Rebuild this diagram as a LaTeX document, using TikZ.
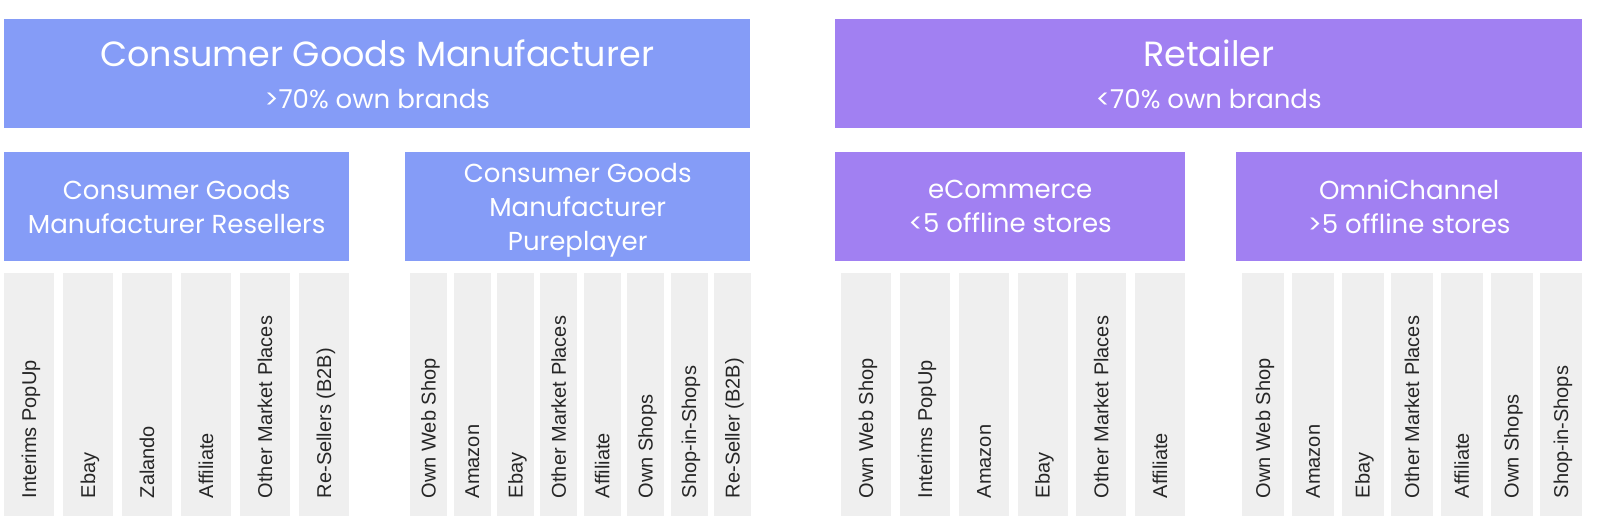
\documentclass[tikz,border=0pt]{standalone}
\usepackage{fontspec}
\newfontfamily\headfont{Poppins}
\newfontfamily\barfont{Liberation Sans}
\usetikzlibrary{positioning}

\definecolor{cgmblue}{RGB}{133,156,247}
\definecolor{retpurple}{RGB}{161,128,242}
\definecolor{bargray}{RGB}{239,239,239}

\begin{document}
\begin{tikzpicture}[x=1pt, y=1pt,
		% Define styles for the boxes
		topbox/.style={
			rectangle, anchor=north west, inner sep=0pt, text=white, align=center,
			minimum height=109pt, text depth=-3pt, font=\headfont\fontsize{26}{42}\selectfont
		},
		groupbox/.style={
			rectangle, anchor=north west, inner sep=0pt, text=white, align=center,
			minimum height=109pt, text depth=0pt, font=\headfont\fontsize{26}{34}\selectfont
		},
		bar/.style={
			rectangle, anchor=north west, inner sep=0pt, fill=bargray, minimum height=243pt
		},
		barlabel/.style={
			rotate=90, anchor=base west, inner sep=0pt, text=black!85,
			font=\barfont\fontsize{20}{24}\selectfont
		}
		]
		\useasboundingbox (0,0) rectangle (1600,-530);
		
		% Top level boxes
		\node[topbox, fill=cgmblue, minimum width=746pt] (cgm) at (4,-19)
			{{\fontsize{35}{42}\selectfont Consumer Goods Manufacturer}\\>70\% own brands};
		\node[topbox, fill=retpurple, minimum width=747pt] (retailer) at (835,-19)
			{{\fontsize{35}{42}\selectfont Retailer}\\<70\% own brands};
		
		% Second level boxes
		\node[groupbox, fill=cgmblue, minimum width=345pt] (resellers) at (4,-152)
			{Consumer Goods\\Manufacturer Resellers};
		\node[groupbox, fill=cgmblue, minimum width=345pt] (pureplayer) at (405,-152)
			{Consumer Goods\\Manufacturer\\Pureplayer};
		\node[groupbox, fill=retpurple, minimum width=350pt] (ecommerce) at (835,-152)
			{eCommerce\\<5 offline stores};
		\node[groupbox, fill=retpurple, minimum width=346pt] (omni) at (1236,-152)
			{OmniChannel\\>5 offline stores};
		
		% Channel bars
		\foreach \lbl [count=\i from 0] in {Interims PopUp, Ebay, Zalando, Affiliate, Other Market Places, Re-Sellers (B2B)} {
			\node[bar, minimum width=50pt] (res-\i) at ({4+59*\i},-273) {};
			\node[barlabel] at ([xshift=7pt, yshift=18pt]res-\i.south) {\lbl};
		}
		\foreach \lbl [count=\i from 0] in {Own Web Shop, Amazon, Ebay, Other Market Places, Affiliate, Own Shops, Shop-in-Shops, Re-Seller (B2B)} {
			\node[bar, minimum width=37pt] (pure-\i) at ({410+43.4*\i},-273) {};
			\node[barlabel] at ([xshift=7pt, yshift=18pt]pure-\i.south) {\lbl};
		}
		\foreach \lbl [count=\i from 0] in {Own Web Shop, Interims PopUp, Amazon, Ebay, Other Market Places, Affiliate} {
			\node[bar, minimum width=50pt] (ecom-\i) at ({841+58.8*\i},-273) {};
			\node[barlabel] at ([xshift=7pt, yshift=18pt]ecom-\i.south) {\lbl};
		}
		\foreach \lbl [count=\i from 0] in {Own Web Shop, Amazon, Ebay, Other Market Places, Affiliate, Own Shops, Shop-in-Shops} {
			\node[bar, minimum width=42pt] (omni-\i) at ({1242+49.67*\i},-273) {};
			\node[barlabel] at ([xshift=7pt, yshift=18pt]omni-\i.south) {\lbl};
		}
		
	\end{tikzpicture}
\end{document}
